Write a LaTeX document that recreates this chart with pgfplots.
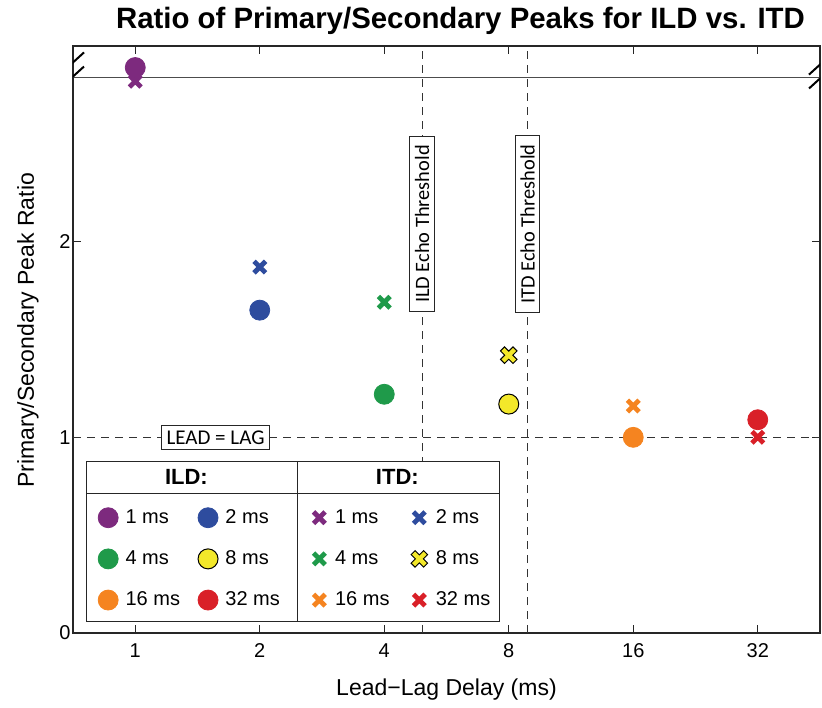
\documentclass[border=0pt]{standalone}
\usepackage{fontspec}
\setmainfont{Liberation Sans}
\newfontfamily\calib{Carlito}
\usepackage{pgfplots}
\pgfplotsset{compat=1.18}

\definecolor{cpurple}{HTML}{7D2A7E}
\definecolor{cblue}{HTML}{2E4C9E}
\definecolor{cgreen}{HTML}{1F9A4A}
\definecolor{cyellow}{HTML}{F3E82A}
\definecolor{corange}{HTML}{F58420}
\definecolor{cred}{HTML}{D92028}

% fat cross marks, the 8 ms one with a black rim
\pgfdeclareplotmark{fatx}{%
  \pgfsetlinewidth{2.4pt}\pgfsetbuttcap
  \pgfpathmoveto{\pgfqpoint{-2.9pt}{-2.9pt}}\pgfpathlineto{\pgfqpoint{2.9pt}{2.9pt}}
  \pgfpathmoveto{\pgfqpoint{-2.9pt}{2.9pt}}\pgfpathlineto{\pgfqpoint{2.9pt}{-2.9pt}}
  \pgfusepathqstroke}
\pgfdeclareplotmark{fatxo}{%
  \pgfsetbuttcap
  \pgfsetlinewidth{3.3pt}\pgfsetstrokecolor{black}
  \pgfpathmoveto{\pgfqpoint{-3.3pt}{-3.3pt}}\pgfpathlineto{\pgfqpoint{3.3pt}{3.3pt}}
  \pgfpathmoveto{\pgfqpoint{-3.3pt}{3.3pt}}\pgfpathlineto{\pgfqpoint{3.3pt}{-3.3pt}}
  \pgfusepathqstroke
  \pgfsetlinewidth{2.2pt}\pgfsetstrokecolor{cyellow}
  \pgfpathmoveto{\pgfqpoint{-2.9pt}{-2.9pt}}\pgfpathlineto{\pgfqpoint{2.9pt}{2.9pt}}
  \pgfpathmoveto{\pgfqpoint{-2.9pt}{2.9pt}}\pgfpathlineto{\pgfqpoint{2.9pt}{-2.9pt}}
  \pgfusepathqstroke}

\pgfplotsset{
  base/.style={
    at={(0,0)}, anchor=south west,
    scale only axis, width=373.5pt, height=293.5pt,
    xmin=0.5, xmax=6.5, ymin=0, ymax=3,
    legend columns=2, legend cell align=left,
    legend image code/.code={\draw[##1] plot coordinates {(0pt,0pt)};},
  },
}

\begin{document}
\begin{tikzpicture}
\path[use as bounding box] (-36.5pt,-37pt) rectangle (374.5pt,316.5pt);

\begin{axis}[base,
  xtick={1,2,3,4,5,6}, xticklabels={1,2,4,8,16,32},
  ytick={0,1,2},
  tick align=inside, major tick length=4pt,
  axis line style={black!85, line width=0.6pt},
  tick style={black!85, line width=0.5pt},
  /pgf/number format/assume math mode=true,
  ticklabel style={font=\fontsize{10}{12}\selectfont},
  xticklabel style={yshift=-1.6pt},
  yticklabel style={xshift=2.3pt},
  title={Ratio of Primary/Secondary Peaks for ILD vs. ITD},
  title style={at={(axis description cs:0.5,1)}, anchor=center, yshift=6.5pt, xshift=7pt,
    font=\bfseries\fontsize{14.7}{17}\selectfont},
  xlabel={Lead−Lag Delay (ms)},
  xlabel style={at={(axis description cs:0.5,0)}, anchor=center, yshift=-28.5pt,
    font=\fontsize{11.5}{14}\selectfont},
  ylabel={Primary/Secondary Peak Ratio},
  ylabel style={at={(axis description cs:0,0.516)}, anchor=center, yshift=22.5pt,
    font=\fontsize{11.5}{14}\selectfont},
  legend style={at={(axis cs:0.699,0.655)}, anchor=north west, draw=none, fill=none,
    inner sep=0pt, row sep=8.1pt, font=\fontsize{10}{12}\selectfont,
    /tikz/every odd column/.append style={column sep=1.7pt},
    /tikz/every even column/.append style={column sep=7pt}},
]
% reference lines
\addplot[black!80, line width=0.5pt, dash pattern=on 4pt off 3pt, forget plot] coordinates {(0.5,1) (6.5,1)};
\addplot[black!80, line width=0.5pt, dash pattern=on 4pt off 3pt, forget plot] coordinates {(3.304,0) (3.304,3)};
\addplot[black!80, line width=0.5pt, dash pattern=on 4pt off 3pt, forget plot] coordinates {(4.151,0) (4.151,3)};
% axis break
\addplot[black!70, line width=0.6pt, forget plot] coordinates {(0.5,2.837) (6.5,2.837)};

\node[draw=black!85, fill=white, rotate=90, inner xsep=4.5pt, inner ysep=2.5pt, line width=0.5pt,
  font=\calib\fontsize{10.2}{12}\selectfont] at (axis cs:3.304,2.09) {ILD Echo Threshold};
\node[draw=black!85, fill=white, rotate=90, inner xsep=4.5pt, inner ysep=2.5pt, line width=0.5pt,
  font=\calib\fontsize{10.2}{12}\selectfont] at (axis cs:4.151,2.09) {ITD Echo Threshold};
\node[draw=black!85, fill=white, inner xsep=2.7pt, inner ysep=2.7pt, line width=0.5pt,
  font=\calib\fontsize{10.5}{12}\selectfont] at (axis cs:1.645,1.0) {LEAD = LAG};

% legend frame
\draw[black!85, line width=0.6pt, fill=white] (axis cs:0.607,0.058) rectangle (axis cs:3.927,0.876);
\draw[black!85, line width=0.6pt] (axis cs:0.607,0.711) -- (axis cs:3.927,0.711);
\draw[black!85, line width=0.6pt] (axis cs:2.301,0.058) -- (axis cs:2.301,0.876);
\node[font=\bfseries\fontsize{11}{13}\selectfont] at (axis cs:1.411,0.798) {ILD:};
\node[font=\bfseries\fontsize{11}{13}\selectfont] at (axis cs:3.105,0.798) {ITD:};

% break marks
\draw[black, line width=1pt] (axis cs:0.5,2.916) ++(-5.5pt,-5pt) -- ++(11pt,10pt);
\draw[black, line width=1pt] (axis cs:0.5,2.844) ++(-5.5pt,-5pt) -- ++(11pt,10pt);
\draw[black, line width=1pt] (axis cs:6.5,2.905) ++(-5.5pt,-5pt) -- ++(11pt,10pt);
\draw[black, line width=1pt] (axis cs:6.5,2.834) ++(-5.5pt,-5pt) -- ++(11pt,10pt);

% ILD
\addplot[only marks, mark=*, mark size=5pt, color=cpurple] coordinates {(1,2.89)};
\addlegendentry{1 ms}
\addplot[only marks, mark=*, mark size=5pt, color=cblue] coordinates {(2,1.65)};
\addlegendentry{2 ms}
\addplot[only marks, mark=*, mark size=5pt, color=cgreen] coordinates {(3,1.22)};
\addlegendentry{4 ms}
\addplot[only marks, mark=*, mark size=5pt, mark options={fill=cyellow, draw=black, line width=0.5pt}] coordinates {(4,1.17)};
\addlegendentry{8 ms}
\addplot[only marks, mark=*, mark size=5pt, color=corange] coordinates {(5,1.0)};
\addlegendentry{16 ms}
\addplot[only marks, mark=*, mark size=5pt, color=cred] coordinates {(6,1.09)};
\addlegendentry{32 ms}
\end{axis}

\begin{axis}[base, hide axis,
  legend style={at={(axis cs:2.429,0.655)}, anchor=north west, draw=none, fill=none,
    inner sep=0pt, row sep=8.1pt, font=\fontsize{10}{12}\selectfont,
    /tikz/every odd column/.append style={column sep=2.95pt},
    /tikz/every even column/.append style={column sep=9.6pt}},
]
% ITD
\addplot[only marks, mark=fatx, color=cpurple] coordinates {(1,2.82)};
\addlegendentry{1 ms}
\addplot[only marks, mark=fatx, color=cblue] coordinates {(2,1.87)};
\addlegendentry{2 ms}
\addplot[only marks, mark=fatx, color=cgreen] coordinates {(3,1.69)};
\addlegendentry{4 ms}
\addplot[only marks, mark=fatxo] coordinates {(4,1.42)};
\addlegendentry{8 ms}
\addplot[only marks, mark=fatx, color=corange] coordinates {(5,1.16)};
\addlegendentry{16 ms}
\addplot[only marks, mark=fatx, color=cred] coordinates {(6,1.0)};
\addlegendentry{32 ms}
\end{axis}
\end{tikzpicture}
\end{document}
